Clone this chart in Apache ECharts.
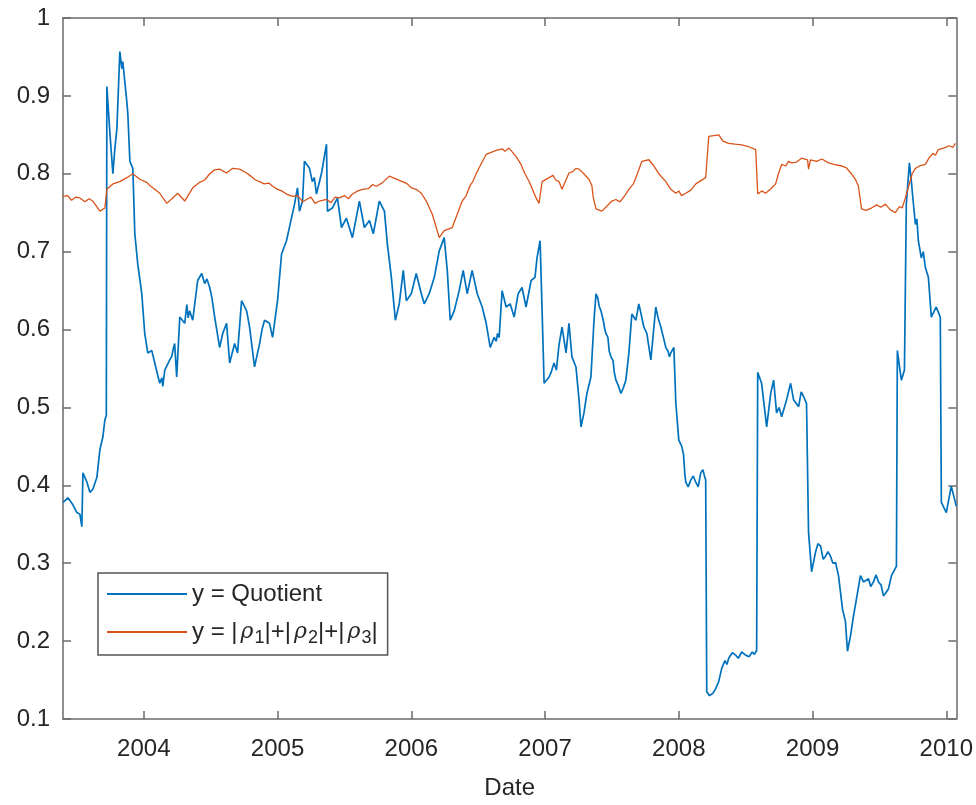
<!DOCTYPE html>
<html>
<head>
<meta charset="utf-8">
<script src="https://cdn.jsdelivr.net/npm/echarts@6/dist/echarts.min.js"></script>
<style>
  html, body { margin: 0; padding: 0; background: #fff; }
  #chart { width: 976px; height: 805px; }
</style>
</head>
<body>
<div id="chart"></div>
<script>
// [decimal year, value]
var quotientPoints = [
  [2003.396,0.378],[2003.433,0.384],[2003.470,0.375],[2003.500,0.365],[2003.522,0.363],[2003.537,0.347],[2003.545,0.416],
  [2003.575,0.404],[2003.597,0.391],[2003.619,0.395],[2003.649,0.410],[2003.672,0.446],[2003.694,0.462],[2003.709,0.484],
  [2003.720,0.490],[2003.724,0.912],[2003.746,0.854],[2003.769,0.800],[2003.784,0.833],[2003.799,0.858],[2003.821,0.957],
  [2003.836,0.935],[2003.843,0.944],[2003.873,0.893],[2003.881,0.876],[2003.896,0.816],[2003.918,0.807],[2003.933,0.723],
  [2003.955,0.684],[2003.985,0.646],[2004.007,0.595],[2004.030,0.570],[2004.060,0.573],[2004.082,0.557],[2004.119,0.531],
  [2004.135,0.538],[2004.142,0.527],[2004.157,0.548],[2004.194,0.561],[2004.210,0.566],[2004.220,0.575],[2004.231,0.582],
  [2004.246,0.539],[2004.269,0.616],[2004.306,0.608],[2004.322,0.632],[2004.332,0.615],[2004.343,0.624],[2004.366,0.612],
  [2004.403,0.663],[2004.433,0.672],[2004.455,0.659],[2004.472,0.665],[2004.493,0.654],[2004.510,0.640],[2004.530,0.616],
  [2004.567,0.577],[2004.590,0.595],[2004.619,0.608],[2004.642,0.557],[2004.679,0.582],[2004.701,0.570],[2004.731,0.637],
  [2004.769,0.624],[2004.791,0.603],[2004.828,0.552],[2004.866,0.582],[2004.884,0.600],[2004.903,0.612],[2004.940,0.608],
  [2004.963,0.590],[2005.000,0.637],[2005.030,0.697],[2005.067,0.714],[2005.104,0.743],[2005.127,0.761],[2005.149,0.782],
  [2005.164,0.752],[2005.187,0.765],[2005.201,0.816],[2005.239,0.807],[2005.260,0.790],[2005.275,0.795],[2005.291,0.774],
  [2005.328,0.800],[2005.366,0.838],[2005.373,0.752],[2005.410,0.756],[2005.448,0.769],[2005.478,0.731],[2005.515,0.743],
  [2005.560,0.718],[2005.612,0.765],[2005.649,0.731],[2005.687,0.740],[2005.716,0.723],[2005.761,0.765],[2005.799,0.752],
  [2005.821,0.710],[2005.851,0.667],[2005.881,0.612],[2005.910,0.633],[2005.940,0.676],[2005.963,0.637],[2006.000,0.646],
  [2006.037,0.672],[2006.075,0.646],[2006.097,0.633],[2006.134,0.646],[2006.172,0.667],[2006.209,0.701],[2006.246,0.718],
  [2006.269,0.676],[2006.291,0.612],[2006.321,0.624],[2006.358,0.650],[2006.388,0.676],[2006.418,0.646],[2006.455,0.676],
  [2006.493,0.646],[2006.530,0.629],[2006.560,0.608],[2006.590,0.577],[2006.619,0.590],[2006.635,0.585],[2006.645,0.595],
  [2006.657,0.590],[2006.679,0.650],[2006.709,0.629],[2006.739,0.633],[2006.769,0.616],[2006.799,0.646],[2006.828,0.654],
  [2006.858,0.629],[2006.896,0.663],[2006.925,0.667],[2006.940,0.692],[2006.963,0.714],[2006.978,0.624],[2006.993,0.531],
  [2007.030,0.539],[2007.045,0.545],[2007.067,0.557],[2007.085,0.548],[2007.104,0.580],[2007.127,0.603],[2007.157,0.570],
  [2007.179,0.608],[2007.201,0.565],[2007.231,0.552],[2007.254,0.510],[2007.269,0.475],[2007.291,0.493],[2007.313,0.518],
  [2007.343,0.539],[2007.366,0.612],[2007.381,0.646],[2007.395,0.640],[2007.405,0.630],[2007.418,0.624],[2007.435,0.612],
  [2007.445,0.602],[2007.455,0.595],[2007.470,0.590],[2007.480,0.572],[2007.493,0.565],[2007.508,0.560],[2007.518,0.545],
  [2007.530,0.535],[2007.548,0.528],[2007.567,0.518],[2007.585,0.525],[2007.604,0.535],[2007.627,0.570],[2007.649,0.620],
  [2007.679,0.612],[2007.701,0.633],[2007.718,0.620],[2007.739,0.603],[2007.761,0.595],[2007.791,0.561],[2007.828,0.629],
  [2007.845,0.615],[2007.866,0.603],[2007.885,0.590],[2007.903,0.577],[2007.920,0.572],[2007.930,0.565],[2007.940,0.570],
  [2007.963,0.577],[2007.978,0.505],[2008.000,0.458],[2008.022,0.450],[2008.035,0.440],[2008.045,0.415],[2008.052,0.404],
  [2008.070,0.398],[2008.090,0.407],[2008.108,0.412],[2008.127,0.404],[2008.145,0.398],[2008.164,0.416],[2008.180,0.420],
  [2008.192,0.412],[2008.201,0.407],[2008.209,0.135],[2008.230,0.130],[2008.255,0.133],[2008.276,0.139],[2008.298,0.148],
  [2008.321,0.165],[2008.345,0.175],[2008.360,0.170],[2008.373,0.178],[2008.400,0.185],[2008.425,0.182],[2008.445,0.178],
  [2008.470,0.186],[2008.500,0.182],[2008.525,0.180],[2008.550,0.186],[2008.565,0.183],[2008.582,0.188],[2008.590,0.545],
  [2008.619,0.531],[2008.657,0.475],[2008.687,0.518],[2008.709,0.535],[2008.731,0.493],[2008.750,0.500],[2008.769,0.488],
  [2008.806,0.510],[2008.836,0.531],[2008.858,0.510],[2008.896,0.501],[2008.915,0.520],[2008.933,0.514],[2008.955,0.505],
  [2008.970,0.340],[2008.993,0.289],[2009.022,0.314],[2009.040,0.325],[2009.060,0.322],[2009.080,0.305],[2009.097,0.309],
  [2009.115,0.315],[2009.134,0.309],[2009.152,0.300],[2009.172,0.301],[2009.194,0.284],[2009.224,0.241],[2009.246,0.225],
  [2009.261,0.187],[2009.284,0.207],[2009.306,0.232],[2009.328,0.254],[2009.358,0.284],[2009.381,0.276],[2009.418,0.280],
  [2009.435,0.270],[2009.455,0.276],[2009.475,0.285],[2009.493,0.276],[2009.512,0.272],[2009.530,0.258],[2009.548,0.262],
  [2009.567,0.267],[2009.590,0.284],[2009.627,0.296],[2009.634,0.573],[2009.664,0.535],[2009.687,0.548],[2009.701,0.761],
  [2009.724,0.814],[2009.739,0.790],[2009.752,0.765],[2009.769,0.735],[2009.780,0.742],[2009.791,0.714],[2009.813,0.692],
  [2009.828,0.700],[2009.843,0.680],[2009.866,0.667],[2009.888,0.616],[2009.925,0.629],[2009.955,0.616],[2009.963,0.378],
  [2010.000,0.365],[2010.037,0.399],[2010.075,0.373]
];

var rhoPoints = [
  [2003.396,0.771],[2003.430,0.772],[2003.460,0.766],[2003.490,0.770],[2003.522,0.769],[2003.560,0.764],[2003.590,0.768],
  [2003.619,0.765],[2003.672,0.752],[2003.709,0.756],[2003.724,0.780],[2003.769,0.787],[2003.821,0.790],[2003.873,0.795],
  [2003.918,0.800],[2003.970,0.793],[2004.022,0.789],[2004.045,0.785],[2004.067,0.782],[2004.119,0.775],[2004.172,0.762],
  [2004.216,0.769],[2004.254,0.775],[2004.306,0.765],[2004.366,0.782],[2004.418,0.789],[2004.455,0.792],[2004.493,0.800],
  [2004.530,0.805],[2004.567,0.806],[2004.619,0.801],[2004.664,0.807],[2004.716,0.806],[2004.769,0.801],[2004.800,0.797],
  [2004.835,0.792],[2004.866,0.790],[2004.900,0.787],[2004.935,0.788],[2004.963,0.784],[2005.000,0.780],[2005.030,0.778],
  [2005.067,0.774],[2005.112,0.771],[2005.150,0.772],[2005.190,0.764],[2005.216,0.767],[2005.250,0.770],[2005.280,0.762],
  [2005.313,0.765],[2005.366,0.767],[2005.400,0.763],[2005.430,0.770],[2005.463,0.769],[2005.500,0.772],[2005.530,0.768],
  [2005.560,0.774],[2005.600,0.778],[2005.634,0.780],[2005.680,0.781],[2005.710,0.786],[2005.739,0.784],[2005.780,0.788],
  [2005.836,0.797],[2005.933,0.790],[2005.970,0.787],[2006.000,0.782],[2006.037,0.780],[2006.075,0.775],[2006.112,0.765],
  [2006.157,0.748],[2006.209,0.718],[2006.246,0.727],[2006.306,0.731],[2006.381,0.765],[2006.410,0.772],[2006.440,0.785],
  [2006.460,0.790],[2006.485,0.800],[2006.520,0.812],[2006.560,0.825],[2006.634,0.830],[2006.680,0.832],[2006.700,0.829],
  [2006.731,0.833],[2006.784,0.822],[2006.820,0.812],[2006.850,0.800],[2006.881,0.790],[2006.933,0.769],[2006.955,0.762],
  [2006.978,0.790],[2007.030,0.795],[2007.060,0.798],[2007.080,0.792],[2007.104,0.790],[2007.127,0.780],[2007.179,0.801],
  [2007.210,0.803],[2007.230,0.807],[2007.254,0.806],[2007.290,0.800],[2007.328,0.793],[2007.350,0.785],[2007.360,0.770],
  [2007.381,0.755],[2007.425,0.752],[2007.460,0.758],[2007.500,0.765],[2007.530,0.767],[2007.560,0.764],[2007.600,0.773],
  [2007.627,0.780],[2007.660,0.787],[2007.690,0.800],[2007.724,0.816],[2007.776,0.818],[2007.810,0.811],[2007.851,0.800],
  [2007.903,0.790],[2007.940,0.780],[2007.978,0.775],[2008.000,0.778],[2008.020,0.772],[2008.052,0.775],[2008.090,0.779],
  [2008.127,0.787],[2008.201,0.795],[2008.224,0.848],[2008.299,0.850],[2008.330,0.842],[2008.373,0.839],[2008.420,0.838],
  [2008.470,0.837],[2008.520,0.835],[2008.575,0.831],[2008.590,0.774],[2008.620,0.778],[2008.649,0.775],[2008.690,0.781],
  [2008.724,0.787],[2008.745,0.800],[2008.769,0.812],[2008.800,0.810],[2008.820,0.816],[2008.843,0.814],[2008.880,0.815],
  [2008.918,0.820],[2008.963,0.818],[2008.970,0.806],[2008.985,0.818],[2009.030,0.816],[2009.070,0.819],[2009.119,0.814],
  [2009.160,0.812],[2009.216,0.810],[2009.250,0.808],[2009.291,0.800],[2009.320,0.793],[2009.343,0.784],[2009.366,0.755],
  [2009.400,0.753],[2009.440,0.756],[2009.480,0.760],[2009.510,0.757],[2009.545,0.761],[2009.580,0.754],[2009.619,0.750],
  [2009.650,0.758],[2009.670,0.756],[2009.694,0.769],[2009.720,0.785],[2009.745,0.800],[2009.769,0.807],[2009.800,0.810],
  [2009.843,0.812],[2009.870,0.820],[2009.900,0.826],[2009.920,0.824],[2009.940,0.831],[2009.980,0.833],[2010.020,0.836],
  [2010.050,0.834],[2010.067,0.839]
];

var yearTicks = [2004, 2005, 2006, 2007, 2008, 2009, 2010];
var seriesNames = ['y = Quotient', 'y = |ρ1|+|ρ2|+|ρ3|'];

var FONT = 'Liberation Sans, Arial, sans-serif';
var AXIS_COLOR = '#6a6a6a';
var TEXT_COLOR = '#262626';
var xMin = 2003.396, xMax = 2010.075;

var myChart = echarts.init(document.getElementById('chart'));

function boxAxis(extra) {
  var ax = {
    type: 'value',
    axisLine: { show: true, onZero: false, lineStyle: { color: AXIS_COLOR, width: 1.5 } },
    axisTick: { show: true, inside: true, length: 8, lineStyle: { color: AXIS_COLOR, width: 1.5 } },
    splitLine: { show: false }
  };
  for (var k in extra) ax[k] = extra[k];
  return ax;
}

var option = {
  animation: false,
  backgroundColor: '#fff',
  grid: { left: 63, right: 18, top: 18, bottom: 78 },
  legend: {
    orient: 'vertical',
    left: 98,
    top: 573,
    padding: [6, 10, 8, 9],
    itemGap: 8,
    itemWidth: 80,
    itemHeight: 2,
    icon: 'rect',
    borderColor: '#555',
    borderWidth: 1.5,
    backgroundColor: '#fff',
    data: seriesNames,
    formatter: function (name) {
      if (name === seriesNames[1]) {
        return 'y = |{r|ρ}{s|1}|+|{r|ρ}{s|2}|+|{r|ρ}{s|3}|';
      }
      return name;
    },
    textStyle: {
      fontFamily: FONT,
      fontSize: 24,
      color: TEXT_COLOR,
      lineHeight: 30,
      rich: {
        r: { fontFamily: 'DejaVu Serif', fontStyle: 'italic', fontSize: 22, color: TEXT_COLOR, padding: [0, 1, 0, 3] },
        s: { fontFamily: FONT, fontSize: 18, color: TEXT_COLOR, padding: [12, 0, 0, 0] }
      }
    }
  },
  xAxis: [
    boxAxis({
      min: xMin, max: xMax,
      name: 'Date',
      nameLocation: 'middle',
      nameGap: 57,
      nameTextStyle: { fontFamily: FONT, fontSize: 24, color: TEXT_COLOR },
      axisTick: { show: true, inside: true, length: 8, customValues: yearTicks, lineStyle: { color: AXIS_COLOR, width: 1.5 } },
      axisLabel: {
        customValues: yearTicks,
        fontFamily: FONT, fontSize: 24, color: TEXT_COLOR, margin: 18,
        formatter: function (v) { return String(Math.round(v)); }
      }
    }),
    boxAxis({
      position: 'top',
      min: xMin, max: xMax,
      axisTick: { show: true, inside: true, length: 8, customValues: yearTicks, lineStyle: { color: AXIS_COLOR, width: 1.5 } },
      axisLabel: { show: false }
    })
  ],
  yAxis: [
    boxAxis({
      min: 0.1, max: 1, interval: 0.1,
      axisLabel: { fontFamily: FONT, fontSize: 24, color: TEXT_COLOR, margin: 13 }
    }),
    boxAxis({
      position: 'right',
      min: 0.1, max: 1, interval: 0.1,
      axisLabel: { show: false }
    })
  ],
  series: [{
    name: seriesNames[0],
    type: 'line',
    symbol: 'none',
    color: '#0072BD',
    lineStyle: { color: '#0072BD', width: 1.7 },
    data: quotientPoints
  }, {
    name: seriesNames[1],
    type: 'line',
    symbol: 'none',
    color: '#D95319',
    lineStyle: { color: '#D95319', width: 1.3 },
    data: rhoPoints
  }]
};

myChart.setOption(option);
window.addEventListener('resize', function () {
  myChart.resize();
});
</script>
</body>
</html>
